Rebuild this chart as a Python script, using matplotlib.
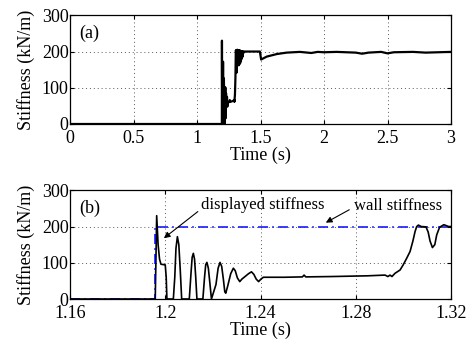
import matplotlib
matplotlib.use("Agg")

import matplotlib.pyplot as plt

plt.rcParams["font.family"] = ["Liberation Serif", "DejaVu Serif"]

# displayed stiffness, zoomed window around contact (kN/m)
t_zoom = [1.160, 1.1958, 1.1964, 1.1970, 1.1976, 1.1982, 1.2000, 1.2004, 1.2007,
          1.2034, 1.2040, 1.2045, 1.2051, 1.2057, 1.2063, 1.2069,
          1.2101, 1.2108, 1.2113, 1.2118, 1.2123, 1.2128, 1.2133,
          1.2158, 1.2165, 1.2170, 1.2175, 1.2181, 1.2188, 1.2194,
          1.2213, 1.2222, 1.2230, 1.2237, 1.2244, 1.2250, 1.2254, 1.2262,
          1.2275, 1.2286, 1.2294, 1.2303, 1.2313, 1.2322,
          1.2350, 1.2362, 1.2372, 1.2382, 1.2392, 1.2402, 1.2412,
          1.2500, 1.2576, 1.2583, 1.2590, 1.2700, 1.2850, 1.2923,
          1.2935, 1.2944, 1.2952, 1.2965, 1.2986, 1.2999, 1.3012, 1.3028,
          1.3040, 1.3049, 1.3056, 1.3063, 1.3075, 1.3095, 1.3104, 1.3112,
          1.3122, 1.3132, 1.3140, 1.3152, 1.3170, 1.3190, 1.3200]
k_zoom = [0, 0, 230, 150, 110, 96, 94, 60, 0,
          0, 60, 140, 172, 150, 80, 0,
          0, 70, 115, 126, 110, 60, 0,
          0, 60, 95, 101, 85, 40, 0,
          40, 85, 101, 90, 55, 20, 16, 35,
          70, 85, 78, 58, 48, 55,
          70, 75, 68, 55, 48, 55, 60,
          60, 61, 66, 61, 62, 64, 66,
          62, 66, 62, 71, 80, 94, 110, 131,
          160, 186, 200, 204, 200, 199, 185, 160,
          142, 150, 177, 198, 205, 200, 200]

# displayed stiffness after the zoomed window, full run
t_late = [1.322, 1.325, 1.328, 1.331, 1.334, 1.337, 1.340, 1.343, 1.346,
          1.349, 1.352, 1.355, 1.358, 1.361, 1.364, 1.367, 1.40, 1.495,
          1.505, 1.549, 1.628, 1.706, 1.81, 1.9, 1.95, 2.0, 2.1, 2.25,
          2.3, 2.35, 2.45, 2.5, 2.55, 2.7, 2.8, 3.0]
k_late = [165, 203, 162, 203, 165, 203, 168, 202, 175,
          201, 180, 200, 185, 200, 195, 200, 200, 200,
          178, 186, 193, 197, 199, 196, 199, 198, 199, 197,
          194, 197, 199, 195, 198, 199, 197, 199]

t_full = [0.0] + t_zoom + t_late
k_full = [0] + k_zoom + k_late

# wall stiffness (step at contact)
t_wall = [1.160, 1.1959, 1.1959, 1.320]
k_wall = [0, 0, 200, 200]

xticks_a = [0, 0.5, 1, 1.5, 2, 2.5, 3]
xticks_b = [1.16, 1.2, 1.24, 1.28, 1.32]
yticks = [0, 100, 200, 300]

FS = 13

fig = plt.figure(figsize=(4.70, 3.46), dpi=100)
ax_a = fig.add_axes([70 / 470, 1 - 124 / 346, 381 / 470, 108.7 / 346])
ax_b = fig.add_axes([70 / 470, 1 - 299 / 346, 381 / 470, 108.7 / 346])


def style_axes(ax, xticks, xlabels):
    ax.set_ylim(0, 300)
    ax.set_yticks(yticks)
    ax.set_xticks(xticks)
    ax.set_xticklabels(xlabels)
    ax.grid(True, color="0.35", linestyle=(0, (1, 3)), linewidth=0.7)
    ax.tick_params(direction="in", length=3, width=0.8, top=True, right=True,
                   labelsize=FS)
    ax.tick_params(axis="x", pad=4)
    ax.tick_params(axis="y", pad=1)
    for s in ax.spines.values():
        s.set_linewidth(0.9)
    ax.set_xlabel("Time (s)", fontsize=FS, labelpad=0)
    ax.set_ylabel("Stiffness (kN/m)", fontsize=FS, labelpad=5)


ax_a.plot(t_full, k_full, color="black", lw=1.6)
ax_a.set_xlim(0, 3)
style_axes(ax_a, xticks_a, ["0", "0.5", "1", "1.5", "2", "2.5", "3"])
ax_a.text(0.025, 0.83, "(a)", transform=ax_a.transAxes, fontsize=FS,
          va="center", ha="left")

ax_b.plot(t_wall, k_wall, color="#1a1aff", lw=1.2,
          linestyle=(0, (6, 2.5, 1, 2.5)))
ax_b.plot(t_zoom, k_zoom, color="black", lw=1.2)
ax_b.set_xlim(1.16, 1.32)
style_axes(ax_b, xticks_b, ["1.16", "1.2", "1.24", "1.28", "1.32"])
ax_b.text(0.025, 0.83, "(b)", transform=ax_b.transAxes, fontsize=FS,
          va="center", ha="left")

arrow = dict(arrowstyle="-|>", color="black", lw=0.8, mutation_scale=9)
ax_b.annotate("", xy=(1.1985, 163), xytext=(1.2146, 246), arrowprops=arrow)
ax_b.text(1.2151, 260, "displayed stiffness", fontsize=FS - 1,
          ha="left", va="center")
ax_b.annotate("", xy=(1.2664, 207), xytext=(1.2783, 250), arrowprops=arrow)
ax_b.text(1.2794, 257, "wall stiffness", fontsize=FS - 1,
          ha="left", va="center")

fig.savefig("out.png", dpi=100)
